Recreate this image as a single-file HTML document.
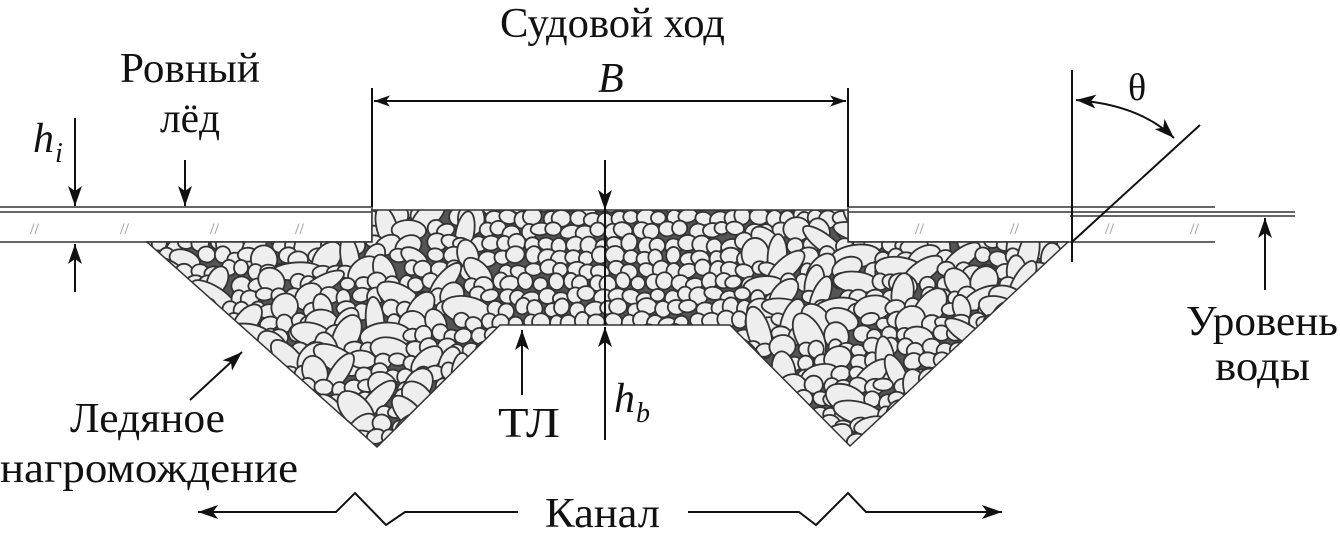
<!DOCTYPE html>
<html><head><meta charset="utf-8"><style>
html,body{margin:0;padding:0;background:#fff;}
svg{display:block;}
text{font-family:"Liberation Serif",serif;fill:#111;}
</style></head><body>
<svg id="s" width="1340" height="537" viewBox="0 0 1340 537" xmlns="http://www.w3.org/2000/svg">
<defs>
<marker id="a" viewBox="0 0 10 10" refX="10" refY="5" markerWidth="16" markerHeight="16" orient="auto-start-reverse" markerUnits="userSpaceOnUse"><path d="M0,1.5 L10,5 L0,8.5 L2.5,5 z" fill="#111"/></marker>
<marker id="b" viewBox="0 0 10 10" refX="10" refY="5" markerWidth="20" markerHeight="20" orient="auto-start-reverse" markerUnits="userSpaceOnUse"><path d="M0,1.5 L10,5 L0,8.5 L2.5,5 z" fill="#111"/></marker>
<clipPath id="cp"><polygon points="147,242 372,242 372,210 848,210 848,242 1068,242 850,446 730,325 500,325 377,447"/></clipPath>
</defs>
<g stroke="#666" stroke-width="2" fill="none">
<line x1="0" y1="207" x2="372" y2="207"/><line x1="0" y1="212" x2="372" y2="212"/>
<line x1="0" y1="242" x2="372" y2="242"/>
<line x1="372" y1="207" x2="372" y2="242"/>
<line x1="848" y1="207" x2="1215" y2="207"/><line x1="848" y1="212" x2="1295" y2="212"/>
<line x1="1070" y1="216" x2="1295" y2="216"/>
<line x1="848" y1="242" x2="1215" y2="242"/>
<line x1="848" y1="207" x2="848" y2="242"/>
</g>
<g font-size="16" font-weight="bold"><text x="30" y="234" style="fill:#aaa">//</text><text x="120" y="234" style="fill:#aaa">//</text><text x="210" y="234" style="fill:#aaa">//</text><text x="295" y="234" style="fill:#aaa">//</text><text x="915" y="234" style="fill:#aaa">//</text><text x="1010" y="234" style="fill:#aaa">//</text><text x="1105" y="234" style="fill:#aaa">//</text><text x="1190" y="234" style="fill:#aaa">//</text></g>
<g id="rub" clip-path="url(#cp)"><polygon points="147,242 372,242 372,210 848,210 848,242 1068,242 850,446 730,325 500,325 377,447" fill="#555"/></g>
<polygon points="147,242 372,242 372,210 848,210 848,242 1068,242 850,446 730,325 500,325 377,447" fill="none" stroke="#333" stroke-width="1.5"/>
<g stroke="#111" stroke-width="2" fill="none">
<line x1="372" y1="88" x2="372" y2="207"/><line x1="848" y1="88" x2="848" y2="207"/>
<line x1="374" y1="101" x2="846" y2="101" marker-start="url(#a)" marker-end="url(#a)"/>
<line x1="75" y1="118" x2="75" y2="206" marker-end="url(#b)"/>
<line x1="75" y1="292" x2="75" y2="244" marker-end="url(#b)"/>
<line x1="185" y1="160" x2="185" y2="206" marker-end="url(#b)"/>
<line x1="605" y1="160" x2="605" y2="210" marker-end="url(#b)"/>
<line x1="605" y1="210" x2="605" y2="325"/>
<line x1="605" y1="440" x2="605" y2="327" marker-end="url(#b)"/>
<line x1="522" y1="395" x2="522" y2="330" marker-end="url(#b)"/>
<line x1="190" y1="400" x2="242" y2="352" marker-end="url(#b)"/>
<line x1="1265" y1="290" x2="1265" y2="218" marker-end="url(#b)"/>
<line x1="1072" y1="70" x2="1072" y2="262"/>
<line x1="1072" y1="242" x2="1200" y2="125"/>
<path d="M1076,100 Q1140,105 1174,138" marker-start="url(#b)" marker-end="url(#b)"/>
<path d="M518,512 L405,512 L386,525 L355,493 L336,512 L198,512" marker-end="url(#b)"/>
<path d="M688,512 L799,512 L816,525 L848,493 L866,512 L1002,512" marker-end="url(#b)"/>
</g>
<g font-size="42">
<text x="500" y="37" textLength="225" lengthAdjust="spacingAndGlyphs">Судовой ход</text>
<text x="120" y="82" textLength="140" lengthAdjust="spacingAndGlyphs">Ровный</text>
<text x="160" y="132" textLength="60" lengthAdjust="spacingAndGlyphs">лёд</text>
<text x="33" y="152" font-style="italic">h</text><text x="55" y="162" font-style="italic" font-size="28">i</text>
<text x="598" y="92" font-style="italic">B</text>
<text x="1128" y="100" font-size="38">θ</text>
<text x="1186" y="335" textLength="152" lengthAdjust="spacingAndGlyphs">Уровень</text>
<text x="1215" y="380" textLength="95" lengthAdjust="spacingAndGlyphs">воды</text>
<text x="70" y="432" textLength="155" lengthAdjust="spacingAndGlyphs">Ледяное</text>
<text x="0" y="482" textLength="298" lengthAdjust="spacingAndGlyphs">нагромождение</text>
<text x="498" y="437" textLength="62" lengthAdjust="spacingAndGlyphs">ТЛ</text>
<text x="614" y="412" font-style="italic">h</text><text x="636" y="422" font-style="italic" font-size="28">b</text>
<text x="545" y="527" textLength="115" lengthAdjust="spacingAndGlyphs">Канал</text>
</g>
</svg>
<script>
(function(){
var g=document.getElementById('rub'),ns='http://www.w3.org/2000/svg';
var seed=7;function r(){seed=(seed*16807)%2147483647;return seed/2147483647;}
function add(cx,cy,rx,ry,ang){var e=document.createElementNS(ns,'ellipse');e.setAttribute('cx',cx);e.setAttribute('cy',cy);e.setAttribute('rx',rx);e.setAttribute('ry',ry);e.setAttribute('transform','rotate('+ang+' '+cx+' '+cy+')');e.setAttribute('fill','#eee');e.setAttribute('stroke','#333');e.setAttribute('stroke-width','1.8');g.appendChild(e);}
for(var y=205;y<455;y+=13){var row=(y-205)/13;for(var x=140;x<1075;x+=14){
 var big=(x<480||x>740)&&r()<0.3;
 var rx=big?13+r()*14:7+r()*3, ry=big?8+r()*6:6+r()*3;
 add(x+r()*6-3+(row%2?7:0),y+r()*6-3,rx,ry,big?r()*180:r()*40-20);
 if(big) x+=10;
}}
})();
</script>
</body></html>
